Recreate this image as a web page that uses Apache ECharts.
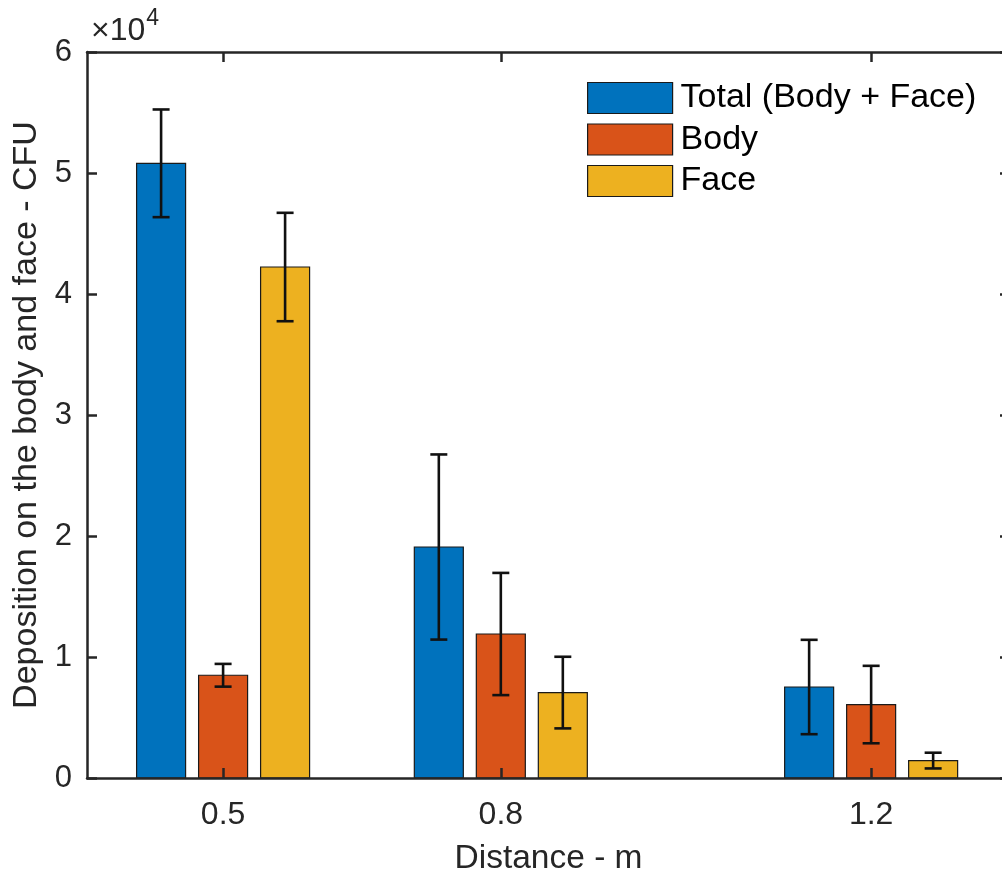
<!DOCTYPE html>
<html>
<head>
<meta charset="utf-8">
<script src="https://cdn.jsdelivr.net/npm/echarts@6/dist/echarts.min.js"></script>
<style>
html,body{margin:0;padding:0;background:#fff;}
#chart{width:1002px;height:874px;}
</style>
</head>
<body>
<div id="chart"></div>
<script>
// ---- data ----
const distances = [0.5, 0.8, 1.2];
const tickLabels = ['0.5', '0.8', '1.2'];
const seriesNames = ['Total (Body + Face)', 'Body', 'Face'];
const totalVals = [50800, 19090, 7520];
const totalErr  = [4450, 7650, 3900];
const bodyVals  = [8490, 11900, 6070];
const bodyErr   = [940, 5050, 3200];
const faceVals  = [42230, 7060, 1440];
const faceErr   = [4480, 2960, 650];

// ---- style ----
const COLORS = ['#0072BD', '#D95319', '#EDB120'];
const AX = '#262626';
const FONT = 'Liberation Sans, Arial, Helvetica, sans-serif';
const BAR_W = 49;
const BAR_STEP = 62;
const CAP = 17;

function makeRender(si) {
  return function (params, api) {
    const x = api.value(0), v = api.value(1), e = api.value(2);
    const base = api.coord([x, 0]);
    const top = api.coord([x, v]);
    const cx = base[0] + (si - 1) * BAR_STEP;
    const yT = api.coord([x, v + e])[1];
    const yB = api.coord([x, v - e])[1];
    const ls = { stroke: '#111', lineWidth: 2.6 };
    return {
      type: 'group',
      children: [
        { type: 'rect', shape: { x: cx - BAR_W / 2, y: top[1], width: BAR_W, height: base[1] - top[1] },
          style: { fill: COLORS[si], stroke: '#1a1a1a', lineWidth: 1.2 } },
        { type: 'line', shape: { x1: cx, y1: yT, x2: cx, y2: yB }, style: ls },
        { type: 'line', shape: { x1: cx - CAP / 2, y1: yT, x2: cx + CAP / 2, y2: yT }, style: ls },
        { type: 'line', shape: { x1: cx - CAP / 2, y1: yB, x2: cx + CAP / 2, y2: yB }, style: ls }
      ]
    };
  };
}

const valsList = [totalVals, bodyVals, faceVals];
const errList = [totalErr, bodyErr, faceErr];
const series = seriesNames.map((name, si) => ({
  name: name,
  type: 'custom',
  renderItem: makeRender(si),
  itemStyle: { color: COLORS[si] },
  encode: { x: 0, y: 1 },
  data: distances.map((d, i) => [d, valsList[si][i], errList[si][i]]),
  z: 2
}));

const xBase = {
  type: 'value', min: 0.353, max: 1.35,
  splitLine: { show: false },
  axisLine: { show: true, onZero: false, lineStyle: { color: AX, width: 2.5 } },
  axisTick: { show: true, inside: true, length: 10, customValues: distances, lineStyle: { color: AX, width: 2.5 } },
  z: 10
};
const yBase = {
  type: 'value', min: 0, max: 60000, interval: 10000,
  splitLine: { show: false },
  axisLine: { show: true, lineStyle: { color: AX, width: 2.5 } },
  axisTick: { show: true, inside: true, length: 10, lineStyle: { color: AX, width: 2.5 } },
  z: 10
};

const option = {
  animation: false,
  backgroundColor: '#fff',
  textStyle: { fontFamily: FONT },
  grid: { left: 87, top: 52, width: 923, height: 726, containLabel: false, outerBoundsMode: 'none' },
  xAxis: [
    Object.assign({}, xBase, {
      position: 'bottom',
      name: 'Distance - m', nameLocation: 'middle', nameGap: 64,
      nameTextStyle: { fontSize: 33.5, color: AX, fontFamily: FONT },
      axisLabel: { show: true, customValues: distances, margin: 21, fontSize: 32, color: AX, fontFamily: FONT,
        formatter: function (v) { const i = distances.indexOf(v); return i >= 0 ? tickLabels[i] : ''; } }
    }),
    Object.assign({}, xBase, { position: 'top', axisLabel: { show: false } })
  ],
  yAxis: [
    Object.assign({}, yBase, {
      position: 'left',
      name: 'Deposition on the body and face - CFU', nameLocation: 'middle', nameGap: 42,
      nameTextStyle: { fontSize: 34, color: AX, fontFamily: FONT },
      axisLabel: { show: true, margin: 15, fontSize: 31, color: AX, fontFamily: FONT,
        formatter: function (v) { return String(v / 10000); } }
    }),
    Object.assign({}, yBase, { position: 'right', axisLabel: { show: false } })
  ],
  legend: {
    orient: 'vertical', left: 587, top: 81, padding: 0,
    itemWidth: 85, itemHeight: 31, itemGap: 7.5,
    icon: 'rect',
    textStyle: { fontSize: 34, color: '#000', fontFamily: FONT, padding: [0, 0, 0, 3] },
    data: seriesNames.map((n, i) => ({ name: n, itemStyle: { color: COLORS[i], borderColor: '#1a1a1a', borderWidth: 1.2 } }))
  },
  graphic: [{
    type: 'text', left: 91, top: 7,
    style: {
      text: '{a|\u00d710}{b|4}',
      rich: {
        a: { fontSize: 32, fontFamily: FONT, fill: AX, verticalAlign: 'bottom', lineHeight: 40 },
        b: { fontSize: 23, fontFamily: FONT, fill: AX, verticalAlign: 'top', lineHeight: 40, padding: [0, 0, 16, 1] }
      }
    }
  }],
  series: series
};

const chart = echarts.init(document.getElementById('chart'), null, { renderer: 'canvas' });
chart.setOption(option);
</script>
</body>
</html>
